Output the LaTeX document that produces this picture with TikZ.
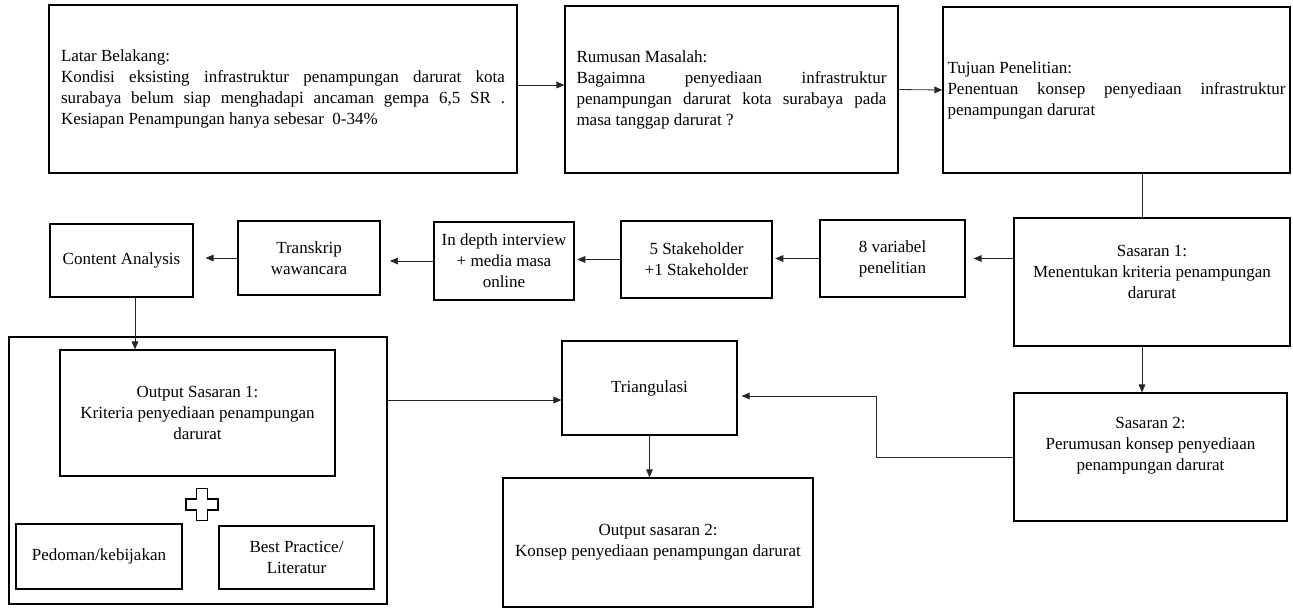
\documentclass[tikz,border=0pt]{standalone}
\usepackage{fontspec}
\setmainfont{Liberation Serif}
\usetikzlibrary{arrows.meta}

\begin{document}
\begin{tikzpicture}[x=0.75pt,y=-0.75pt,>={Triangle[length=6pt,width=5pt]},
  every node/.style={font=\fontsize{12.75}{15.75}\selectfont},
  box/.style={draw,line width=0.9pt,inner sep=0pt,align=center},
  wh/.style 2 args={minimum width=#1*0.75pt,minimum height=#2*0.75pt},
  para/.style={box,align=justify,text width=#1},
  link/.style={black!85,line width=0.6pt,->}]
  \useasboundingbox (0,0) rectangle (1293,608);
  \node[para=333pt,wh={468}{168}] (lb) at (283,89)
    {Latar Belakang:\\
     Kondisi eksisting infrastruktur penampungan darurat kota\linebreak
     surabaya belum siap menghadapi ancaman gempa 6,5 SR .\linebreak
     Kesiapan Penampungan hanya sebesar\ \ 0-34\%};
  \node[para=232.5pt,wh={333}{167}] (rm) at (731.5,89.5)
    {Rumusan Masalah:\\
     Bagaimna penyediaan infrastruktur\linebreak
     penampungan darurat kota surabaya pada\linebreak
     masa tanggap darurat ?};
  \node[para=253.5pt,wh={347}{166}] (tp) at (1116.5,90)
    {Tujuan Penelitian:\\
     Penentuan konsep penyediaan infrastruktur\linebreak
     penampungan darurat};
  \node[box,wh={143}{73}] (ca) at (121.5,260.5) {Content Analysis};
  \node[box,wh={142}{74}] (tw) at (309,258) {Transkrip\\wawancara};
  \node[box,wh={140}{78}] (idi) at (504,261) {In depth interview\\+ media masa\\online};
  \node[box,wh={151}{77}] (sh) at (696.5,259.5) {5 Stakeholder\\+1 Stakeholder};
  \node[box,wh={145}{77}] (var) at (892.5,258.5) {8 variabel\\penelitian};
  \node[box,wh={276}{128}] (s1) at (1152,282) {};
  \node[align=center] (s1txt) at (1152,272)
    {Sasaran 1:\\Menentukan kriteria penampungan\\darurat};
  \node[box,wh={273}{128}] (s2) at (1150.5,457) {};
  \node[align=center] (s2txt) at (1150.5,446)
    {Sasaran 2:\\Perumusan konsep penyediaan\\penampungan darurat};
  \node[box,wh={175}{94}] (tri) at (649.5,388) {Triangulasi};
  \node[box,wh={310}{129}] (os2) at (658,542.5)
    {Output sasaran 2:\\Konsep penyediaan penampungan darurat};
  \node[box,wh={378}{267}] (frame) at (198,470.5) {};
  \node[box,wh={275}{126}] (os1) at (197.5,413)
    {Output Sasaran 1:\\Kriteria penyediaan penampungan\\darurat};
  \node[box,wh={166}{65}] (ped) at (99,556.5) {Pedoman/kebijakan};
  \node[box,wh={155}{63}] (bp) at (296.5,557.5) {Best Practice/\\Literatur};
  \coordinate (plus) at (202,504.5);
  \draw[line width=0.9pt] (plus) ++(-5.5,-16) -- ++(11,0) -- ++(0,10.5)
    -- ++(10.5,0) -- ++(0,11) -- ++(-10.5,0) -- ++(0,10.5) -- ++(-11,0)
    -- ++(0,-10.5) -- ++(-10.5,0) -- ++(0,-11) -- ++(10.5,0) -- cycle;
  \coordinate (axis) at (1142,180);
  \coordinate (cadown) at (135,300);
  \path ([yshift=3pt]lb.east) coordinate (lbout);
  \path ([yshift=-9pt]tri.west) coordinate (trin);
  \path ([yshift=-6pt]tri.east) coordinate (trie);
  \draw[link] (lbout) -- (lbout -| rm.west);
  \draw[link] (rm.east) -- (tp.west);
  \draw[link,-] (axis |- tp.south) -- (axis |- s1.north);
  \draw[link] (axis |- s1.south) -- (axis |- s2.north);
  \draw[link,shorten >=6pt] (s1.west |- var.east) -- (var.east);
  \draw[link,shorten >=2pt] (var.west) -- (var.west -| sh.east);
  \draw[link,shorten >=2pt] (sh.west) -- (sh.west -| idi.east);
  \draw[link,shorten >=7pt] (idi.west) -- (idi.west -| tw.east);
  \draw[link,shorten >=9pt] (tw.west) -- (tw.west -| ca.east);
  \draw[link] (cadown |- ca.south) -- (cadown |- os1.north);
  \draw[link] (frame.east |- trin) -- (trin);
  \draw[link,shorten >=3pt] (s2.west) -- ++(-137,0) |- (trie);
  \draw[link] (tri.south) -- (tri.south |- os2.north);
\end{tikzpicture}
\end{document}
